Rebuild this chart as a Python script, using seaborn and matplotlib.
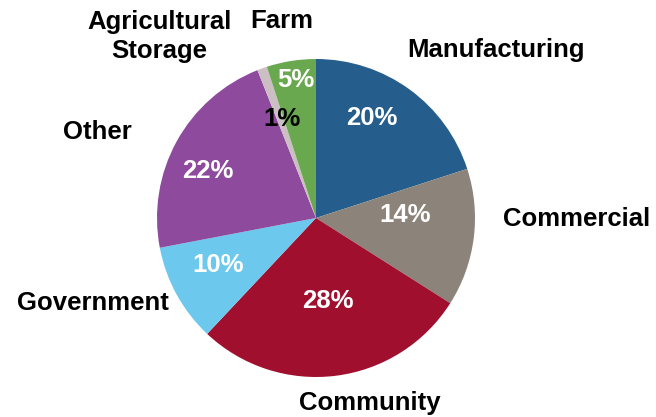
import matplotlib
matplotlib.use("Agg")
import matplotlib.pyplot as plt
import seaborn as sns
import numpy as np

sns.set_theme(style="white")
plt.rcParams['font.family'] = ['Liberation Sans', 'DejaVu Sans']

categories = ["Manufacturing", "Commercial", "Community", "Government", "Other",
              "Agricultural\nStorage", "Farm"]
values = [20, 14, 28, 10, 22, 1, 5]
colors = ["#255E8C", "#8C847A", "#A0102E", "#6CC8EC", "#8E4B9E", "#CCBFC4", "#6AA84F"]
pct_colors = ["white", "white", "white", "white", "white", "black", "white"]
# per-label radial placement (fraction of radius) and angle tweaks (deg)
pct_r = [0.72, 0.56, 0.53, 0.68, 0.74, 0.66, 0.88]
pct_da = [6.8, 9.2, 0.9, -3.2, 5.3, -1.0, -0.8]
lab_r = [1.55, 1.64, 1.21, 1.50, 1.48, 1.51, 1.26]
lab_da = [-11, 7, 9, -8, 7.4, 21, 0.9]

fig = plt.figure(figsize=(6.56, 4.17), dpi=100)
cx, cy, R = 316, 417 - 218, 159
ax = fig.add_axes([(cx - R) / 656, (cy - R) / 417, 2 * R / 656, 2 * R / 417])
wedges, _ = ax.pie(values, colors=colors, startangle=90, counterclock=False,
                   radius=1, wedgeprops=dict(linewidth=0))
ax.set_xlim(-1, 1)
ax.set_ylim(-1, 1)
ax.set_axis_off()

for i, w in enumerate(wedges):
    mid = (w.theta1 + w.theta2) / 2
    a = np.deg2rad(mid + pct_da[i])
    ax.text(pct_r[i] * np.cos(a), pct_r[i] * np.sin(a), f"{values[i]}%",
            ha="center", va="center", fontsize=18.5, fontweight="bold",
            color=pct_colors[i])
    b = np.deg2rad(mid + lab_da[i])
    ax.text(lab_r[i] * np.cos(b), lab_r[i] * np.sin(b), categories[i],
            ha="center", va="center", fontsize=18.5, fontweight="bold",
            color="black", linespacing=1.25, clip_on=False)

fig.savefig("out.png", dpi=100)
